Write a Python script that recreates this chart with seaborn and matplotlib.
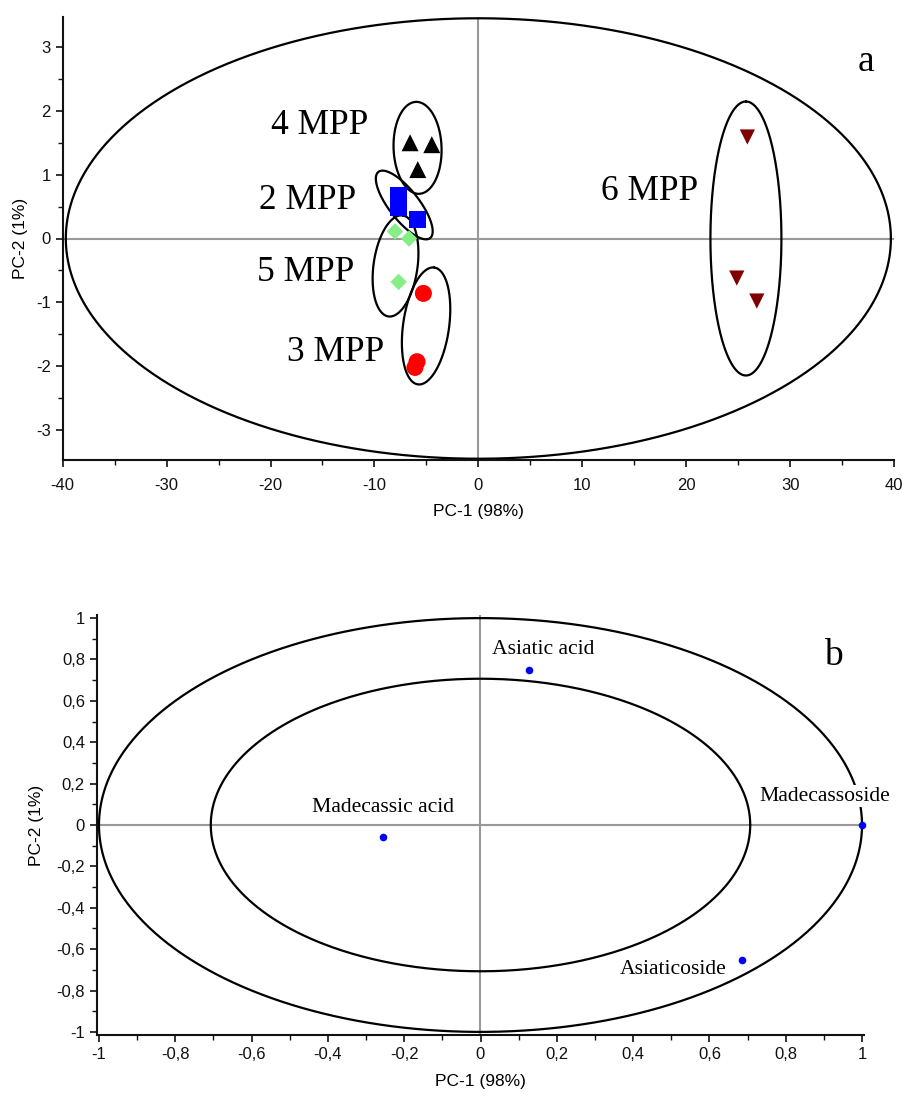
import numpy as np
import pandas as pd
import matplotlib
matplotlib.use("Agg")
import matplotlib.pyplot as plt
import seaborn as sns
from matplotlib.ticker import MultipleLocator, FuncFormatter

# ---------------- Panel a : PCA scores ----------------
group_names = ["4 MPP", "2 MPP", "5 MPP", "3 MPP", "6 MPP"]
mpp4_pc1 = [-6.57, -4.48, -5.83]
mpp4_pc2 = [1.50, 1.47, 1.08]
mpp2_pc1 = [-7.68, -7.68, -5.87]
mpp2_pc2 = [0.68, 0.48, 0.30]
mpp5_pc1 = [-8.02, -6.67, -7.67]
mpp5_pc2 = [0.11, 0.00, -0.68]
mpp3_pc1 = [-5.29, -6.10, -5.90]
mpp3_pc2 = [-0.86, -2.02, -1.93]
mpp6_pc1 = [25.89, 24.87, 26.80]
mpp6_pc2 = [1.59, -0.62, -0.98]

group_colors = ["#000000", "#0000FF", "#86EE86", "#FF0000", "#800000"]
group_markers = ["^", "s", "D", "o", "v"]
group_sizes = [150, 150, 70, 150, 120]

# group hull ellipses: centre (data), semi-axes (px), angle (deg)
hull_cx = [-5.85, -7.13, -7.97, -5.03, 25.75]
hull_cy = [1.42, 0.525, -0.43, -1.37, 0.0]
hull_a = [46, 42, 51, 59, 137]
hull_b = [24, 15, 22, 23, 35.5]
hull_ang = [92, -52, 82, 82, 90]
label_x = [-15.24, -16.39, -16.6, -13.7, 16.43]
label_y = [1.77, 0.60, -0.53, -1.79, 0.74]

# Hotelling ellipse (data units)
t2_a, t2_b = 39.7, 3.45

# ---------------- Panel b : correlation loadings ----------------
var_names = ["Asiatic acid", "Madecassic acid", "Madecassoside", "Asiaticoside"]
load_pc1 = [0.127, -0.256, 1.0, 0.685]
load_pc2 = [0.75, -0.058, 0.0, -0.652]
var_label_x = [0.165, -0.256, 0.903, 0.505]
var_label_y = [0.85, 0.087, 0.14, -0.696]
circle_radii = [1.0, 0.707]

sns.set_theme(style="ticks")
plt.rcParams["font.family"] = ["Liberation Sans", "DejaVu Sans"]
plt.rcParams["axes.unicode_minus"] = False
plt.rcParams["text.color"] = "black"
plt.rcParams["axes.labelcolor"] = "black"

fig = plt.figure(figsize=(9.03, 10.97), dpi=100)
ax1 = fig.add_axes([62.7 / 903, 1 - 460 / 1097, 831.3 / 903, 443 / 1097])
ax2 = fig.add_axes([96.7 / 903, 1 - 1035 / 1097, 767.6 / 903, 420 / 1097])

def style_axes(ax, xpad):
    for s in ["top", "right"]:
        ax.spines[s].set_visible(False)
    for s in ["left", "bottom"]:
        ax.spines[s].set_linewidth(1.5)
        ax.spines[s].set_color("#111111")
    ax.tick_params(which="major", direction="out", length=5, width=1.2,
                   labelsize=12, color="#111111", labelcolor="#111111")
    ax.tick_params(which="minor", direction="out", length=3.5, width=1.0,
                   color="#111111")
    ax.tick_params(axis="x", which="major", pad=xpad)

def hull(ax, cx, cy, a_px, b_px, ang, **kw):
    t = np.linspace(0, 2 * np.pi, 400)
    p0 = ax.transData.transform((0, 0))
    p1 = ax.transData.transform((1, 1))
    sx, sy = p1 - p0
    th = np.deg2rad(ang)
    dx = a_px * np.cos(t) * np.cos(th) - b_px * np.sin(t) * np.sin(th)
    dy = a_px * np.cos(t) * np.sin(th) + b_px * np.sin(t) * np.cos(th)
    ax.plot(cx + dx / sx, cy + dy / sy, **kw)

# ---- panel a
pc1_all = [mpp4_pc1, mpp2_pc1, mpp5_pc1, mpp3_pc1, mpp6_pc1]
pc2_all = [mpp4_pc2, mpp2_pc2, mpp5_pc2, mpp3_pc2, mpp6_pc2]
df_a = pd.DataFrame({
    "PC1": sum(pc1_all, []),
    "PC2": sum(pc2_all, []),
    "group": sum([[g] * len(v) for g, v in zip(group_names, pc1_all)], []),
})
ax1.set_xlim(-40, 40)
ax1.set_ylim(-3.47, 3.47)
ax1.axhline(0, color="#999999", lw=1.5, zorder=1)
ax1.axvline(0, color="#999999", lw=1.5, zorder=1)
t = np.linspace(0, 2 * np.pi, 600)
ax1.plot(t2_a * np.cos(t), t2_b * np.sin(t), color="black", lw=1.6, zorder=2)
sns.scatterplot(data=df_a, x="PC1", y="PC2", hue="group", style="group",
                size="group",
                palette=dict(zip(group_names, group_colors)),
                markers=dict(zip(group_names, group_markers)),
                sizes=dict(zip(group_names, group_sizes)),
                linewidth=0, legend=False, ax=ax1, zorder=4)
for i, g in enumerate(group_names):
    hull(ax1, hull_cx[i], hull_cy[i], hull_a[i], hull_b[i], hull_ang[i],
         color="black", lw=1.6, zorder=3)
    ax1.text(label_x[i], label_y[i], g, ha="center", va="center",
             fontsize=25.5, color="black",
             family=["Liberation Serif", "DejaVu Serif"])
ax1.text(37.3, 2.77, "a", ha="center", va="center", fontsize=27,
         color="black", family=["Liberation Serif", "DejaVu Serif"])
ax1.xaxis.set_major_locator(MultipleLocator(10))
ax1.xaxis.set_minor_locator(MultipleLocator(5))
ax1.yaxis.set_major_locator(MultipleLocator(1))
ax1.yaxis.set_minor_locator(MultipleLocator(0.5))
style_axes(ax1, xpad=8)
ax1.set_xlabel("PC-1 (98%)", fontsize=12.5, labelpad=8)
ax1.set_ylabel("PC-2 (1%)", fontsize=12.5, labelpad=6)

# ---- panel b
df_b = pd.DataFrame({"PC1": load_pc1, "PC2": load_pc2, "var": var_names})
ax2.set_xlim(-1.006, 1.006)
ax2.set_ylim(-1.015, 1.015)
ax2.axhline(0, color="#999999", lw=1.5, zorder=1)
ax2.axvline(0, color="#999999", lw=1.5, zorder=1)
for r in circle_radii:
    ax2.plot(r * np.cos(t), r * np.sin(t), color="black", lw=1.6, zorder=2)
sns.scatterplot(data=df_b, x="PC1", y="PC2", color="#0000FF", s=30,
                linewidth=0, legend=False, ax=ax2, zorder=5, clip_on=False)
for i, v in enumerate(var_names):
    kw = {}
    if v == "Madecassoside":
        kw["bbox"] = dict(facecolor="white", edgecolor="none", pad=1)
    ax2.text(var_label_x[i], var_label_y[i], v, ha="center", va="center",
             fontsize=15.6, color="black",
             family=["Liberation Serif", "DejaVu Serif"], zorder=4, **kw)
ax2.text(0.924, 0.82, "b", ha="center", va="center", fontsize=27,
         color="black", family=["Liberation Serif", "DejaVu Serif"])
ax2.xaxis.set_major_locator(MultipleLocator(0.2))
ax2.xaxis.set_minor_locator(MultipleLocator(0.1))
ax2.yaxis.set_major_locator(MultipleLocator(0.2))
ax2.yaxis.set_minor_locator(MultipleLocator(0.1))
comma = FuncFormatter(lambda v, p: ("%g" % round(v, 2)).replace(".", ","))
ax2.xaxis.set_major_formatter(comma)
ax2.yaxis.set_major_formatter(comma)
style_axes(ax2, xpad=3.5)
ax2.set_xlabel("PC-1 (98%)", fontsize=12.5, labelpad=9)
ax2.set_ylabel("PC-2 (1%)", fontsize=12.5, labelpad=9)

fig.savefig("out.png", dpi=100)
